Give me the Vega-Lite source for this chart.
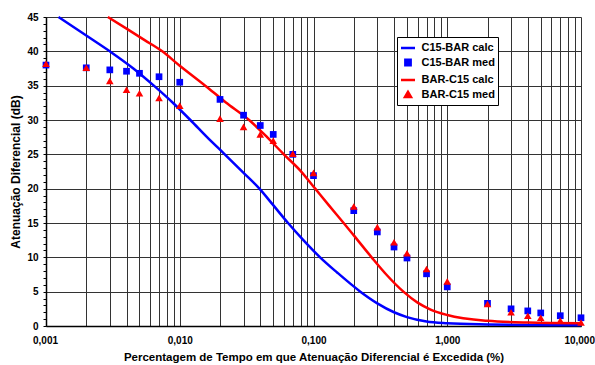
{
  "$schema": "https://vega.github.io/schema/vega-lite/v6.json",
  "width": 535,
  "height": 309,
  "autosize": {"type": "none"},
  "padding": {"left": 46, "top": 17, "right": 14, "bottom": 39},
  "background": "white",
  "config": {
    "view": {"stroke": null},
    "font": "Liberation Sans",
    "axis": {"labelFont": "Liberation Sans", "titleFont": "Liberation Sans", "labelFontWeight": "bold", "titleFontWeight": "bold", "labelColor": "black", "titleColor": "black"}
  },
  "datasets": {
    "calc": [
      {"x": 0.00124, "y": 45, "series": "C15-BAR calc"},
      {"x": 0.002, "y": 42.3, "series": "C15-BAR calc"},
      {"x": 0.003, "y": 40.0, "series": "C15-BAR calc"},
      {"x": 0.0045, "y": 37.5, "series": "C15-BAR calc"},
      {"x": 0.0064, "y": 35.0, "series": "C15-BAR calc"},
      {"x": 0.009, "y": 32.4, "series": "C15-BAR calc"},
      {"x": 0.012, "y": 30.0, "series": "C15-BAR calc"},
      {"x": 0.016, "y": 27.5, "series": "C15-BAR calc"},
      {"x": 0.0217, "y": 25.0, "series": "C15-BAR calc"},
      {"x": 0.03, "y": 22.3, "series": "C15-BAR calc"},
      {"x": 0.0394, "y": 20.0, "series": "C15-BAR calc"},
      {"x": 0.05, "y": 17.6, "series": "C15-BAR calc"},
      {"x": 0.0645, "y": 15.0, "series": "C15-BAR calc"},
      {"x": 0.085, "y": 12.4, "series": "C15-BAR calc"},
      {"x": 0.112, "y": 10.0, "series": "C15-BAR calc"},
      {"x": 0.15, "y": 7.8, "series": "C15-BAR calc"},
      {"x": 0.224, "y": 5.0, "series": "C15-BAR calc"},
      {"x": 0.3, "y": 3.3, "series": "C15-BAR calc"},
      {"x": 0.4, "y": 2.0, "series": "C15-BAR calc"},
      {"x": 0.5, "y": 1.3, "series": "C15-BAR calc"},
      {"x": 0.7, "y": 0.65, "series": "C15-BAR calc"},
      {"x": 1.0, "y": 0.4, "series": "C15-BAR calc"},
      {"x": 2.0, "y": 0.22, "series": "C15-BAR calc"},
      {"x": 4.0, "y": 0.14, "series": "C15-BAR calc"},
      {"x": 10.0, "y": 0.1, "series": "C15-BAR calc"},
      {"x": 0.0029, "y": 45, "series": "BAR-C15 calc"},
      {"x": 0.004, "y": 43.3, "series": "BAR-C15 calc"},
      {"x": 0.0055, "y": 41.6, "series": "BAR-C15 calc"},
      {"x": 0.0074, "y": 40.0, "series": "BAR-C15 calc"},
      {"x": 0.01, "y": 37.9, "series": "BAR-C15 calc"},
      {"x": 0.0155, "y": 35.0, "series": "BAR-C15 calc"},
      {"x": 0.022, "y": 32.6, "series": "BAR-C15 calc"},
      {"x": 0.033, "y": 30.0, "series": "BAR-C15 calc"},
      {"x": 0.045, "y": 27.5, "series": "BAR-C15 calc"},
      {"x": 0.06, "y": 25.0, "series": "BAR-C15 calc"},
      {"x": 0.08, "y": 22.6, "series": "BAR-C15 calc"},
      {"x": 0.103, "y": 20.0, "series": "BAR-C15 calc"},
      {"x": 0.13, "y": 17.6, "series": "BAR-C15 calc"},
      {"x": 0.168, "y": 15.0, "series": "BAR-C15 calc"},
      {"x": 0.2, "y": 13.2, "series": "BAR-C15 calc"},
      {"x": 0.272, "y": 10.0, "series": "BAR-C15 calc"},
      {"x": 0.35, "y": 7.5, "series": "BAR-C15 calc"},
      {"x": 0.47, "y": 5.0, "series": "BAR-C15 calc"},
      {"x": 0.6, "y": 3.4, "series": "BAR-C15 calc"},
      {"x": 0.75, "y": 2.4, "series": "BAR-C15 calc"},
      {"x": 1.0, "y": 1.6, "series": "BAR-C15 calc"},
      {"x": 2.0, "y": 0.75, "series": "BAR-C15 calc"},
      {"x": 4.0, "y": 0.5, "series": "BAR-C15 calc"},
      {"x": 10.0, "y": 0.4, "series": "BAR-C15 calc"}
    ],
    "med": [
      {"x": 0.001, "y": 38.0, "series": "C15-BAR med"},
      {"x": 0.002, "y": 37.6, "series": "C15-BAR med"},
      {"x": 0.003, "y": 37.3, "series": "C15-BAR med"},
      {"x": 0.004, "y": 37.1, "series": "C15-BAR med"},
      {"x": 0.005, "y": 36.8, "series": "C15-BAR med"},
      {"x": 0.007, "y": 36.3, "series": "C15-BAR med"},
      {"x": 0.01, "y": 35.5, "series": "C15-BAR med"},
      {"x": 0.02, "y": 33.0, "series": "C15-BAR med"},
      {"x": 0.03, "y": 30.7, "series": "C15-BAR med"},
      {"x": 0.04, "y": 29.2, "series": "C15-BAR med"},
      {"x": 0.05, "y": 27.9, "series": "C15-BAR med"},
      {"x": 0.07, "y": 25.0, "series": "C15-BAR med"},
      {"x": 0.1, "y": 21.9, "series": "C15-BAR med"},
      {"x": 0.2, "y": 16.8, "series": "C15-BAR med"},
      {"x": 0.3, "y": 13.7, "series": "C15-BAR med"},
      {"x": 0.4, "y": 11.5, "series": "C15-BAR med"},
      {"x": 0.5, "y": 9.9, "series": "C15-BAR med"},
      {"x": 0.7, "y": 7.6, "series": "C15-BAR med"},
      {"x": 1.0, "y": 5.7, "series": "C15-BAR med"},
      {"x": 2.0, "y": 3.3, "series": "C15-BAR med"},
      {"x": 3.0, "y": 2.5, "series": "C15-BAR med"},
      {"x": 4.0, "y": 2.2, "series": "C15-BAR med"},
      {"x": 5.0, "y": 1.9, "series": "C15-BAR med"},
      {"x": 7.0, "y": 1.5, "series": "C15-BAR med"},
      {"x": 10.0, "y": 1.2, "series": "C15-BAR med"},
      {"x": 0.001, "y": 38.2, "series": "BAR-C15 med"},
      {"x": 0.002, "y": 37.6, "series": "BAR-C15 med"},
      {"x": 0.003, "y": 35.7, "series": "BAR-C15 med"},
      {"x": 0.004, "y": 34.4, "series": "BAR-C15 med"},
      {"x": 0.005, "y": 33.9, "series": "BAR-C15 med"},
      {"x": 0.007, "y": 33.2, "series": "BAR-C15 med"},
      {"x": 0.01, "y": 32.1, "series": "BAR-C15 med"},
      {"x": 0.02, "y": 30.2, "series": "BAR-C15 med"},
      {"x": 0.03, "y": 29.0, "series": "BAR-C15 med"},
      {"x": 0.04, "y": 27.9, "series": "BAR-C15 med"},
      {"x": 0.05, "y": 27.0, "series": "BAR-C15 med"},
      {"x": 0.07, "y": 25.1, "series": "BAR-C15 med"},
      {"x": 0.1, "y": 22.3, "series": "BAR-C15 med"},
      {"x": 0.2, "y": 17.4, "series": "BAR-C15 med"},
      {"x": 0.3, "y": 14.4, "series": "BAR-C15 med"},
      {"x": 0.4, "y": 12.2, "series": "BAR-C15 med"},
      {"x": 0.5, "y": 10.6, "series": "BAR-C15 med"},
      {"x": 0.7, "y": 8.3, "series": "BAR-C15 med"},
      {"x": 1.0, "y": 6.5, "series": "BAR-C15 med"},
      {"x": 2.0, "y": 3.2, "series": "BAR-C15 med"},
      {"x": 3.0, "y": 2.0, "series": "BAR-C15 med"},
      {"x": 4.0, "y": 1.5, "series": "BAR-C15 med"},
      {"x": 5.0, "y": 1.2, "series": "BAR-C15 med"},
      {"x": 7.0, "y": 0.8, "series": "BAR-C15 med"},
      {"x": 10.0, "y": 0.5, "series": "BAR-C15 med"}
    ]
  },
  "encoding": {
    "x": {
      "field": "x", "type": "quantitative",
      "scale": {"type": "log", "domain": [0.001, 10], "nice": false},
      "axis": {
        "title": "Percentagem de Tempo em que Atenuação Diferencial é Excedida (%)",
        "titleFontSize": 11.5, "titlePadding": 6,
        "labelFontSize": 10, "labelPadding": 9, "labelOverlap": false,
        "labelFlush": true, "labelFlushOffset": 13.5,
        "values": [0.001,0.002,0.003,0.004,0.005,0.006,0.007,0.008,0.009,0.01,0.02,0.03,0.04,0.05,0.06,0.07,0.08,0.09,0.1,0.2,0.3,0.4,0.5,0.6,0.7,0.8,0.9,1,2,3,4,5,6,7,8,9,10],
        "labelExpr": "abs(log(datum.value)/LN10 - round(log(datum.value)/LN10)) < 0.000001 ? replace(format(datum.value, '.3f'), '.', ',') : ''",
        "ticks": false,
        "grid": true, "gridColor": "#333", "gridWidth": 1,
        "domainColor": "black", "domainWidth": 1.5
      }
    },
    "color": {
      "field": "series", "type": "nominal",
      "scale": {"domain": ["C15-BAR calc", "C15-BAR med", "BAR-C15 calc", "BAR-C15 med"], "range": ["#0000ff", "#0000ff", "#ff0000", "#ff0000"]},
      "legend": {
        "title": null, "orient": "none", "legendX": 351, "legendY": 20,
        "strokeColor": "black", "fillColor": "white", "padding": 2.5, "rowPadding": 0.5,
        "labelFont": "Liberation Sans", "labelFontWeight": "bold", "labelFontSize": 11, "labelColor": "black", "labelOffset": 5,
        "symbolType": "stroke", "symbolSize": 100, "symbolStrokeWidth": 2.5,
        "encode": {
          "symbols": {
            "update": {
              "shape": {"signal": "datum.label == 'C15-BAR med' ? 'square' : (datum.label == 'BAR-C15 med' ? 'triangle-up' : 'stroke')"},
              "size": {"signal": "datum.label == 'C15-BAR med' ? 28 : (datum.label == 'BAR-C15 med' ? 36 : 196)"},
              "fill": {"signal": "datum.label == 'C15-BAR med' ? '#0000ff' : (datum.label == 'BAR-C15 med' ? '#ff0000' : null)"},
              "stroke": {"signal": "datum.label == 'C15-BAR calc' ? '#0000ff' : (datum.label == 'BAR-C15 calc' ? '#ff0000' : null)"}
            }
          }
        }
      }
    }
  },
  "layer": [
    {
      "data": {"name": "calc"},
      "mark": {"type": "line", "interpolate": "monotone", "strokeWidth": 2.5},
      "encoding": {
        "y": {
          "field": "y", "type": "quantitative",
          "scale": {"domain": [0, 45], "nice": false},
          "axis": {
            "orient": "left", "title": null, "labels": false, "ticks": false, "domain": false,
            "values": [0, 5, 10, 15, 20, 25, 30, 35, 40, 45],
            "grid": true, "gridColor": "#333", "gridWidth": 1
          }
        }
      }
    },
    {
      "data": {"name": "med"},
      "transform": [{"filter": "datum.series === 'C15-BAR med'"}],
      "mark": {"type": "point", "shape": "square", "filled": true, "size": 45, "opacity": 1},
      "encoding": {
        "y": {
          "field": "y", "type": "quantitative",
          "scale": {"domain": [0, 45], "nice": false},
          "axis": {
            "orient": "left",
            "title": "Atenuação Diferencial (dB)",
            "titleFontSize": 12, "titlePadding": 4,
            "labelFontSize": 10, "labelPadding": 5,
            "values": [0,1,2,3,4,5,6,7,8,9,10,11,12,13,14,15,16,17,18,19,20,21,22,23,24,25,26,27,28,29,30,31,32,33,34,35,36,37,38,39,40,41,42,43,44,45],
            "labelExpr": "datum.value % 5 === 0 ? datum.label : ''",
            "labelOverlap": false, "labelFlush": false,
            "tickSize": 3, "tickColor": "black",
            "grid": false,
            "domainColor": "black", "domainWidth": 1.5
          }
        }
      }
    },
    {
      "data": {"name": "med"},
      "transform": [{"filter": "datum.series === 'BAR-C15 med'"}],
      "mark": {"type": "point", "shape": "triangle-up", "filled": true, "size": 58, "opacity": 1},
      "encoding": {
        "y": {
          "field": "y", "type": "quantitative",
          "scale": {"domain": [0, 45], "nice": false},
          "axis": null
        }
      }
    }
  ],
  "resolve": {"axis": {"y": "independent"}}
}
